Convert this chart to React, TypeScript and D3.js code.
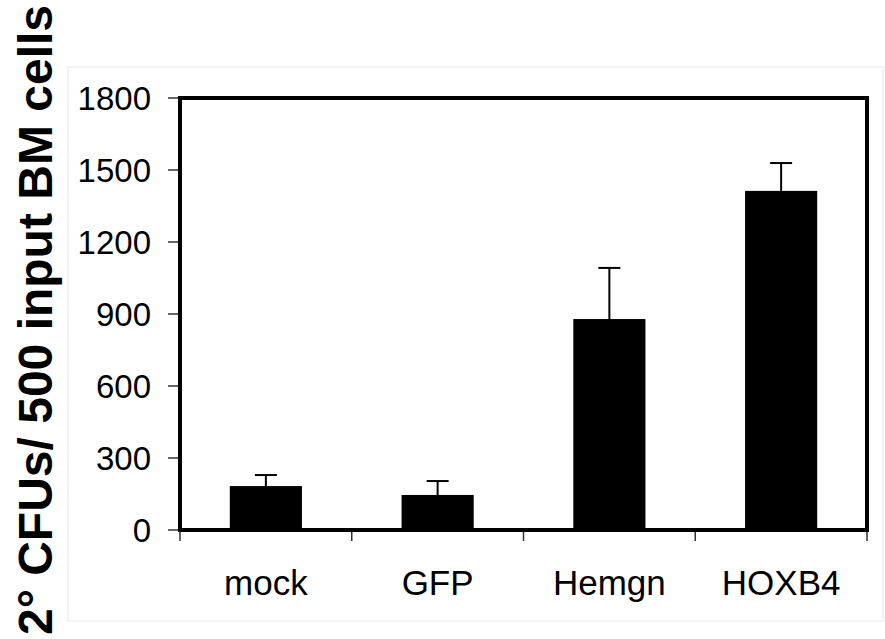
import React from "react"
import { scaleLinear, scaleBand } from "d3"

const categories = ["mock", "GFP", "Hemgn", "HOXB4"]
const means = [183, 146, 879, 1413]
const errors = [46, 58, 213, 116]
const yTicks = [0, 300, 600, 900, 1200, 1500, 1800]

const W = 885
const H = 639
const left = 180
const right = 867
const top = 98
const bottom = 530

export default function App() {
    const x = scaleBand<string>()
        .domain(categories)
        .range([left, right])
        .paddingInner(0.58)
        .paddingOuter(0.29)
    const y = scaleLinear().domain([0, 1800]).range([bottom, top])
    const step = x.step()
    const font = "Liberation Sans, Arial, Helvetica, sans-serif"

    // band boundaries for the category ticks
    const bounds = categories.map((c, i) => left + i * step).concat([right])

    return (
        <svg width={W} height={H} style={{ position: "absolute", left: 0, top: 0, background: "#fff" }}>
            {/* faint chart area border */}
            <rect x={68} y={67} width={815} height={554} fill="none" stroke="#e8e8e8" strokeWidth={1} />

            {/* bars */}
            {categories.map((c, i) => (
                <rect key={c} x={x(c)} y={y(means[i])} width={x.bandwidth()}
                    height={bottom - y(means[i])} fill="#000" />
            ))}

            {/* error bars (upper only) */}
            {categories.map((c, i) => {
                const cx = (x(c) as number) + x.bandwidth() / 2
                return (
                    <g key={c + "-err"} stroke="#000" strokeWidth={2}>
                        <line x1={cx} x2={cx} y1={y(means[i])} y2={y(means[i] + errors[i])} />
                        <line x1={cx - 11} x2={cx + 11} y1={y(means[i] + errors[i])} y2={y(means[i] + errors[i])} />
                    </g>
                )
            })}

            {/* y ticks */}
            {yTicks.map(t => (
                <g key={t}>
                    <line x1={168} x2={left} y1={y(t)} y2={y(t)} stroke="#333" strokeWidth={1.5} />
                    <text x={151} y={y(t) + 12} textAnchor="end" fontFamily={font} fontSize={33} fill="#000">{t}</text>
                </g>
            ))}

            {/* x ticks */}
            {bounds.map((b, i) => (
                <line key={i} x1={b} x2={b} y1={bottom} y2={541} stroke="#333" strokeWidth={1.5} />
            ))}

            {/* category labels */}
            {categories.map(c => (
                <text key={c + "-lbl"} x={(x(c) as number) + x.bandwidth() / 2} y={595}
                    textAnchor="middle" fontFamily={font} fontSize={35} fill="#000">{c}</text>
            ))}

            {/* plot frame */}
            <rect x={left} y={top} width={right - left} height={bottom - top} fill="none" stroke="#000" strokeWidth={4} />

            {/* y axis title */}
            <text transform={`translate(52,320) rotate(-90)`} textAnchor="middle" fontFamily={font}
                fontWeight="bold" fontSize={48} fill="#000">2° CFUs/ 500 input BM cells</text>
        </svg>
    )
}
